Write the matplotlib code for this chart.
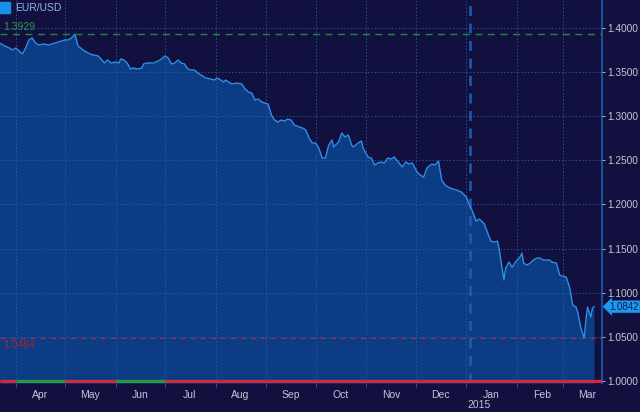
#  EUR/USD area chart, dark terminal style
import matplotlib
matplotlib.use('Agg')
import matplotlib.pyplot as plt
import matplotlib.dates as mdates
import matplotlib.ticker as mticker
import pandas as pd

plt.rcParams['font.family'] = ['Liberation Sans', 'DejaVu Sans']

# series
dates = [
    '2014-03-22', '2014-03-25', '2014-03-28', '2014-03-30', '2014-04-01', '2014-04-03',
    '2014-04-05', '2014-04-07', '2014-04-09', '2014-04-11', '2014-04-13', '2014-04-15',
    '2014-04-18', '2014-04-21', '2014-04-25', '2014-04-29', '2014-05-01', '2014-05-03',
    '2014-05-05', '2014-05-07', '2014-05-08', '2014-05-09', '2014-05-12', '2014-05-15',
    '2014-05-18', '2014-05-21', '2014-05-23', '2014-05-25', '2014-05-27', '2014-05-29',
    '2014-06-01', '2014-06-03', '2014-06-04', '2014-06-06', '2014-06-08', '2014-06-10',
    '2014-06-12', '2014-06-14', '2014-06-17', '2014-06-18', '2014-06-20', '2014-06-24',
    '2014-06-27', '2014-06-29', '2014-07-01', '2014-07-03', '2014-07-05', '2014-07-07',
    '2014-07-09', '2014-07-11', '2014-07-13', '2014-07-15', '2014-07-17', '2014-07-19',
    '2014-07-21', '2014-07-23', '2014-07-25', '2014-07-26', '2014-07-29', '2014-07-31',
    '2014-08-02', '2014-08-04', '2014-08-06', '2014-08-07', '2014-08-10', '2014-08-11',
    '2014-08-14', '2014-08-17', '2014-08-19', '2014-08-21', '2014-08-23', '2014-08-25',
    '2014-08-27', '2014-08-29', '2014-08-31', '2014-09-02', '2014-09-04', '2014-09-06',
    '2014-09-08', '2014-09-10', '2014-09-12', '2014-09-14', '2014-09-16', '2014-09-18',
    '2014-09-21', '2014-09-23', '2014-09-25', '2014-09-27', '2014-09-29', '2014-10-01',
    '2014-10-03', '2014-10-05', '2014-10-07', '2014-10-09', '2014-10-11', '2014-10-12',
    '2014-10-15', '2014-10-17', '2014-10-19', '2014-10-21', '2014-10-23', '2014-10-24',
    '2014-10-27', '2014-10-29', '2014-10-30', '2014-11-02', '2014-11-04', '2014-11-06',
    '2014-11-08', '2014-11-10', '2014-11-12', '2014-11-14', '2014-11-16', '2014-11-18',
    '2014-11-21', '2014-11-23', '2014-11-25', '2014-11-27', '2014-11-29', '2014-12-02',
    '2014-12-04', '2014-12-06', '2014-12-08', '2014-12-11', '2014-12-13', '2014-12-15',
    '2014-12-17', '2014-12-19', '2014-12-22', '2014-12-26', '2014-12-29', '2015-01-01',
    '2015-01-03', '2015-01-05', '2015-01-07', '2015-01-09', '2015-01-12', '2015-01-14',
    '2015-01-16', '2015-01-18', '2015-01-20', '2015-01-21', '2015-01-24', '2015-01-25',
    '2015-01-27', '2015-01-29', '2015-01-31', '2015-02-03', '2015-02-04', '2015-02-05',
    '2015-02-07', '2015-02-09', '2015-02-11', '2015-02-13', '2015-02-15', '2015-02-17',
    '2015-02-19', '2015-02-21', '2015-02-22', '2015-02-25', '2015-02-27', '2015-03-01',
    '2015-03-03', '2015-03-05', '2015-03-07', '2015-03-09', '2015-03-10', '2015-03-11',
    '2015-03-12', '2015-03-14', '2015-03-15', '2015-03-16', '2015-03-18', '2015-03-19',
    '2015-03-20',
]
eurusd = [
    1.3830, 1.3799, 1.3773, 1.3751, 1.3773, 1.3739,
    1.3705, 1.3773, 1.3864, 1.3887, 1.3830, 1.3807,
    1.3819, 1.3807, 1.3830, 1.3853, 1.3864, 1.3864,
    1.3887, 1.3929, 1.3864, 1.3796, 1.3751, 1.3717,
    1.3694, 1.3685, 1.3649, 1.3603, 1.3637, 1.3603,
    1.3614, 1.3603, 1.3649, 1.3637, 1.3603, 1.3535,
    1.3546, 1.3535, 1.3546, 1.3592, 1.3603, 1.3603,
    1.3626, 1.3649, 1.3683, 1.3660, 1.3592, 1.3603,
    1.3637, 1.3603, 1.3592, 1.3535, 1.3524, 1.3524,
    1.3493, 1.3467, 1.3444, 1.3433, 1.3422, 1.3410,
    1.3433, 1.3410, 1.3388, 1.3410, 1.3376, 1.3365,
    1.3376, 1.3365, 1.3308, 1.3274, 1.3263, 1.3184,
    1.3195, 1.3161, 1.3150, 1.3138, 1.3014, 1.2957,
    1.2934, 1.2957, 1.2946, 1.2968, 1.2957, 1.2900,
    1.2878, 1.2866, 1.2844, 1.2753, 1.2696, 1.2696,
    1.2639, 1.2526, 1.2526, 1.2673, 1.2730, 1.2651,
    1.2707, 1.2810, 1.2764, 1.2787, 1.2673, 1.2651,
    1.2696, 1.2719, 1.2639, 1.2537, 1.2526, 1.2447,
    1.2469, 1.2481, 1.2469, 1.2526, 1.2515, 1.2537,
    1.2469, 1.2424, 1.2481, 1.2458, 1.2469, 1.2367,
    1.2333, 1.2311, 1.2413, 1.2458, 1.2447, 1.2492,
    1.2277, 1.2220, 1.2186, 1.2163, 1.2141, 1.2084,
    1.1993, 1.1914, 1.1810, 1.1835, 1.1780, 1.1680,
    1.1585, 1.1574, 1.1585, 1.1500, 1.1143, 1.1275,
    1.1347, 1.1290, 1.1347, 1.1410, 1.1449, 1.1336,
    1.1313, 1.1336, 1.1370, 1.1392, 1.1392, 1.1370,
    1.1370, 1.1370, 1.1347, 1.1336, 1.1200, 1.1188,
    1.1177, 1.1064, 1.0859, 1.0837, 1.0780, 1.0689,
    1.0598, 1.0484, 1.0689, 1.0837, 1.0723, 1.0825,
    1.0842,
]
hi_val = 1.3929
lo_val = 1.0484
last_val = 1.0842
yticks = [1.00, 1.05, 1.10, 1.15, 1.20, 1.25, 1.30, 1.35, 1.40]
# bottom strip: months shown green (rest red)
green_months = ['2014-04', '2014-06']
strip_months = ['2014-03', '2014-04', '2014-05', '2014-06', '2014-07', '2014-08', '2014-09',
                '2014-10', '2014-11', '2014-12', '2015-01', '2015-02', '2015-03']

dates = pd.to_datetime(dates)

bg = '#12103f'
fill_c = '#0b3c84'
line_c = '#2b90e6'
grid_c = '#2a5fb5'
txt_c = '#c4c6d4'

fig = plt.figure(figsize=(6.4, 4.12), dpi=100, facecolor=bg)
ax = fig.add_axes([0.0, 0.07, 0.9406, 0.93])
ax.set_facecolor(bg)

xmin = pd.Timestamp('2014-03-22 08:00')
xmax = pd.Timestamp('2015-03-24 20:00')
ymin, ymax = 0.9975, 1.4317
ax.set_xlim(xmin, xmax)
ax.set_ylim(ymin, ymax)

ax.fill_between(dates, eurusd, ymin, color=fill_c, lw=0, zorder=1)
ax.plot(dates, eurusd, color=line_c, lw=1.0, zorder=4)

# grid on top of the fill
ax.xaxis.set_major_locator(mdates.MonthLocator())
ax.xaxis.set_minor_locator(mdates.MonthLocator(bymonthday=16))
ax.xaxis.set_major_formatter(mticker.NullFormatter())
ax.xaxis.set_minor_formatter(mdates.DateFormatter('%b'))
ax.set_yticks(yticks)
ax.grid(True, which='major', color=grid_c, lw=0.7, ls=(0, (1.5, 2)), alpha=0.8, zorder=3)
ax.set_axisbelow(False)
for gl in ax.get_xgridlines() + ax.get_ygridlines():
    gl.set_zorder(3)

# year boundary
ax.axvline(pd.Timestamp('2015-01-03'), color='#1e5cb0', lw=1.8, ls=(0, (4, 3)), zorder=3)

# high / low reference lines
ax.axhline(hi_val, color='#1f8a3a', lw=1.0, ls=(0, (5, 4)), zorder=5)
ax.axhline(lo_val, color='#b0283c', lw=0.8, ls=(0, (5, 4)), zorder=5)
ax.text(0.005, hi_val + 0.002, '%.4f' % hi_val, transform=ax.get_yaxis_transform(),
        color='#2a9a3c', fontsize=7.5, va='bottom', ha='left', zorder=6)
ax.text(0.005, lo_val - 0.002, '%.4f' % lo_val, transform=ax.get_yaxis_transform(),
        color='#a02838', fontsize=7.5, va='top', ha='left', zorder=6)

# red / green strip along the bottom
for m in strip_months:
    start = max(pd.Timestamp(m + '-01'), xmin)
    end = min(pd.Timestamp(m + '-01') + pd.offsets.MonthBegin(1), xmax)
    c = '#2a9a3c' if m in green_months else '#d4283c'
    ax.hlines(1.0, start, end, color=c, lw=2.4, zorder=6)

# axes styling
ax.yaxis.tick_right()
ax.yaxis.set_major_formatter(mticker.FormatStrFormatter('%.4f'))
ax.tick_params(axis='y', colors=txt_c, labelsize=7.3, length=2, width=0.6, pad=1.5)
ax.tick_params(axis='x', which='major', colors='#3a5a9a', length=3, width=0.6)
ax.tick_params(axis='x', which='minor', colors=txt_c, labelsize=7.5, length=0, pad=5)
for s in ['top', 'left', 'bottom']:
    ax.spines[s].set_visible(False)
ax.spines['right'].set_color('#1f4f9a')
ax.spines['right'].set_linewidth(1.5)

ax.text(pd.Timestamp('2015-01-09'), -0.045, '2015', transform=ax.get_xaxis_transform(),
        color=txt_c, fontsize=7.5, ha='center', va='top')

# legend swatch
fig.patches.append(plt.Rectangle((0.0, 0.968), 0.016, 0.026, transform=fig.transFigure,
                                 color='#1a8fe8', zorder=10))
fig.text(0.024, 0.981, 'EUR/USD', color='#8fb4e6', fontsize=7.5, va='center', ha='left')

# last value tag
ax.annotate('%.4f' % last_val, xy=(1.0, last_val), xycoords=ax.get_yaxis_transform(),
            xytext=(1.012, last_val), textcoords=ax.get_yaxis_transform(),
            fontsize=7, color='#0c1a48', va='center', ha='left', zorder=10,
            bbox=dict(boxstyle='larrow,pad=0.12', fc='#1a9af0', ec='none'),
            annotation_clip=False)

fig.savefig('out.png', dpi=100, facecolor=bg)
